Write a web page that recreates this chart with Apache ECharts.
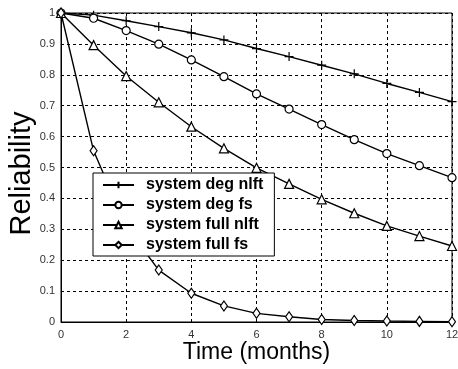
<!DOCTYPE html>
<html><head><meta charset="utf-8">
<script src="https://cdn.jsdelivr.net/npm/echarts@6/dist/echarts.min.js"></script>
<style>html,body{margin:0;padding:0;background:#fff}#c{width:458px;height:369px}</style>
</head><body><div id="c"></div>
<script>
var months = [0,1,2,3,4,5,6,7,8,9,10,11,12];
var seriesNames = ['system deg nlft','system deg fs','system full nlft','system full fs'];
var degNlft = [1,0.993,0.975,0.956,0.936,0.913,0.885,0.859,0.831,0.803,0.772,0.743,0.713];
var degFs = [1,0.983,0.943,0.899,0.848,0.794,0.738,0.689,0.639,0.590,0.545,0.506,0.467];
var fullNlft = [1,0.896,0.796,0.711,0.632,0.562,0.499,0.447,0.397,0.352,0.311,0.278,0.246];
var fullFs = [1,0.554,0.31,0.168,0.093,0.052,0.028,0.017,0.008,0.005,0.003,0.002,0.001];
var xTicks = [0,2,4,6,8,10,12];
var yTicks = [0,0.1,0.2,0.3,0.4,0.5,0.6,0.7,0.8,0.9,1];

var crossPath = 'path://M0,5L10,5M5,0L5,10';
var symbols = [crossPath,'circle','triangle','diamond'];
var sizes = [9,8,9,[7,10]];
var datas = [degNlft,degFs,fullNlft,fullFs];

var chart = echarts.init(document.getElementById('c'));
var series = datas.map(function(d,i){
  return {
    name: seriesNames[i], type:'line',
    data: months.map(function(m,j){return [m,d[j]];}),
    symbol: symbols[i], symbolSize: sizes[i], showSymbol:true,
    lineStyle:{color:'#000',width:1.4},
    itemStyle:{color:i===0?'#000':'#fff',borderColor:'#000',borderWidth:1.2},
    animation:false, z: 3
  };
});
chart.setOption({
  animation:false,
  grid:{left:61,right:6,top:13,bottom:47,containLabel:false,outerBoundsMode:'none',
    show:true,borderColor:'#000',borderWidth:1,backgroundColor:'transparent'},
  xAxis:{type:'value',min:0,max:12,interval:2,
    name:'Time (months)',nameLocation:'middle',nameGap:19,nameMoveOverlap:false,
    nameTextStyle:{fontFamily:'Liberation Sans',fontSize:23,color:'#000'},
    axisLine:{show:true,lineStyle:{color:'#000'}},
    axisTick:{show:false},
    axisLabel:{fontFamily:'Liberation Sans',fontSize:11,color:'#333',margin:7,
      formatter:function(v){return xTicks.indexOf(v)>=0?String(v):'';}},
    splitLine:{show:true,lineStyle:{color:'#000',type:[3,3],width:1}}},
  yAxis:{type:'value',min:0,max:1,interval:0.1,
    name:'Reliability',nameLocation:'middle',nameGap:25,nameMoveOverlap:false,
    nameTextStyle:{fontFamily:'Liberation Sans',fontSize:29,color:'#000',padding:[0,12,0,0]},
    axisLine:{show:true,lineStyle:{color:'#000'}},
    axisTick:{show:false},
    axisLabel:{fontFamily:'Liberation Sans',fontSize:11,color:'#333',margin:6,
      formatter:function(v){var r=Math.round(v*10)/10;return yTicks.indexOf(r)>=0?String(r):'';}},
    splitLine:{show:true,lineStyle:{color:'#000',type:[3,3],width:1}}},
  legend:{orient:'vertical',left:93,top:173,
    backgroundColor:'#fff',borderColor:'#000',borderWidth:1,
    padding:[4,11,3,9],itemGap:4,itemWidth:31,itemHeight:8,
    textStyle:{fontFamily:'Liberation Sans',fontSize:16,fontWeight:'bold',color:'#000',lineHeight:16,padding:[0,0,0,7]},
    data:seriesNames},
  series:series
});
</script></body></html>
